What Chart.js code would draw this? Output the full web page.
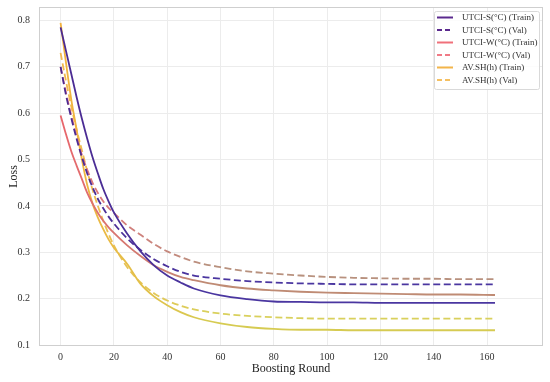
<!DOCTYPE html>
<html>
<head>
<meta charset="utf-8">
<script src="https://cdn.jsdelivr.net/npm/chart.js@4"></script>
<style>
  html, body { margin: 0; padding: 0; background: #fff; }
  #wrap { width: 550px; height: 382px; position: relative; }
</style>
</head>
<body>
<div id="wrap"><canvas id="lossChart"></canvas></div>
<script>
const rounds = [0, 2, 4, 6, 8, 10, 12, 14, 16, 18, 20, 25, 30, 35, 40, 45, 50, 60, 70, 80, 90, 100, 110, 120, 130, 140, 150, 163];

const utciSTrain = [0.785, 0.735, 0.685, 0.635, 0.588, 0.545, 0.505, 0.470, 0.437, 0.410, 0.386, 0.340, 0.302, 0.272, 0.250, 0.235, 0.222, 0.207, 0.199, 0.194, 0.193, 0.192, 0.192, 0.191, 0.191, 0.191, 0.191, 0.191];
const utciSVal   = [0.700, 0.640, 0.590, 0.545, 0.505, 0.470, 0.440, 0.415, 0.395, 0.377, 0.362, 0.330, 0.305, 0.285, 0.270, 0.258, 0.250, 0.243, 0.238, 0.235, 0.233, 0.232, 0.231, 0.231, 0.231, 0.231, 0.231, 0.231];
const utciWTrain = [0.595, 0.555, 0.518, 0.487, 0.458, 0.428, 0.405, 0.385, 0.368, 0.354, 0.342, 0.315, 0.292, 0.272, 0.258, 0.247, 0.240, 0.229, 0.222, 0.218, 0.215, 0.213, 0.212, 0.211, 0.210, 0.209, 0.209, 0.208];
const utciWVal   = [0.700, 0.645, 0.595, 0.550, 0.510, 0.478, 0.450, 0.428, 0.410, 0.396, 0.385, 0.358, 0.338, 0.318, 0.302, 0.290, 0.280, 0.268, 0.259, 0.254, 0.250, 0.247, 0.245, 0.244, 0.243, 0.243, 0.242, 0.242];
const avshTrain  = [0.795, 0.710, 0.630, 0.565, 0.500, 0.445, 0.405, 0.375, 0.350, 0.328, 0.310, 0.275, 0.232, 0.205, 0.186, 0.171, 0.160, 0.147, 0.139, 0.135, 0.133, 0.133, 0.132, 0.132, 0.132, 0.132, 0.132, 0.132];
const avshVal    = [0.730, 0.670, 0.615, 0.565, 0.520, 0.475, 0.435, 0.400, 0.368, 0.340, 0.315, 0.268, 0.235, 0.212, 0.196, 0.185, 0.177, 0.168, 0.163, 0.160, 0.158, 0.157, 0.157, 0.157, 0.157, 0.157, 0.157, 0.157];

const seriesLabels = ['UTCI-S(°C) (Train)', 'UTCI-S(°C) (Val)', 'UTCI-W(°C) (Train)', 'UTCI-W(°C) (Val)', 'AV.SH(h) (Train)', 'AV.SH(h) (Val)'];
const seriesData = [utciSTrain, utciSVal, utciWTrain, utciWVal, avshTrain, avshVal];
const dashed = [false, true, false, true, false, true];
// colour at the start of the curve, colour in the flat tail, colour in the legend
const startColors  = ['#4b2a92', '#4b2a92', '#e8666c', '#e8707a', '#f2b23e', '#f2b850'];
const tailColors   = ['#4a36a0', '#4a36a0', '#bf8b74', '#b8917e', '#d6cb52', '#d9d05c'];
const legendColors = ['#5b2a8e', '#5b2a8e', '#f0707a', '#f07a86', '#f3b54a', '#f5c062'];

const serif = '"Liberation Serif", "DejaVu Serif", serif';

function gradientFor(i) {
  return (ctx) => {
    const chart = ctx.chart;
    const area = chart.chartArea;
    if (!area) return startColors[i];
    const xs = chart.scales.x;
    const g = chart.ctx.createLinearGradient(xs.getPixelForValue(0), 0, xs.getPixelForValue(55), 0);
    g.addColorStop(0, startColors[i]);
    g.addColorStop(1, tailColors[i]);
    return g;
  };
}

const datasets = seriesData.map((vals, i) => ({
  label: seriesLabels[i],
  data: rounds.map((r, k) => ({ x: r, y: vals[k] })),
  borderColor: gradientFor(i),
  borderWidth: 1.8,
  borderDash: dashed[i] ? [7, 3.5] : [],
  pointRadius: 0,
  fill: false,
  cubicInterpolationMode: 'monotone'
}));

// legend box drawn inside the plot, top right
const insideLegend = {
  id: 'insideLegend',
  afterDraw(chart) {
    const c = chart.ctx;
    const x0 = 434, y0 = 11, w = 105, h = 78;
    c.save();
    c.fillStyle = 'rgba(255,255,255,0.85)';
    c.strokeStyle = '#d9d9d9';
    c.lineWidth = 1;
    c.beginPath();
    c.roundRect(x0 + 0.5, y0 + 0.5, w, h, 2);
    c.fill();
    c.stroke();
    c.font = '9px ' + serif;
    c.textBaseline = 'middle';
    c.fillStyle = '#333';
    seriesLabels.forEach((lab, i) => {
      const y = 17.5 + i * 12.5;
      c.strokeStyle = legendColors[i];
      c.lineWidth = 2;
      c.setLineDash(dashed[i] ? [5, 3] : []);
      c.beginPath();
      c.moveTo(437, y);
      c.lineTo(453, y);
      c.stroke();
      c.setLineDash([]);
      c.fillText(lab, 462, y + 0.5);
    });
    c.restore();
  }
};

const frame = {
  id: 'frame',
  beforeDatasetsDraw(chart) {
    const a = chart.chartArea;
    const c = chart.ctx;
    c.save();
    c.strokeStyle = '#cfcfcf';
    c.lineWidth = 1;
    c.strokeRect(a.left + 0.5, a.top + 0.5, a.right - a.left - 1, a.bottom - a.top - 1);
    c.restore();
  }
};

new Chart(document.getElementById('lossChart'), {
  type: 'line',
  data: { datasets },
  options: {
    responsive: true,
    maintainAspectRatio: false,
    animation: false,
    layout: { padding: { left: 0, right: 7, top: 7, bottom: 0 } },
    plugins: {
      legend: { display: false },
      tooltip: { enabled: false }
    },
    scales: {
      x: {
        type: 'linear',
        min: -8.1,
        max: 181,
        border: { display: false },
        grid: { color: '#ececec', lineWidth: 1, drawTicks: false },
        ticks: {
          stepSize: 20,
          includeBounds: false,
          padding: 5,
          color: '#333',
          font: { family: serif, size: 10 }
        },
        afterBuildTicks: (s) => { s.ticks = s.ticks.filter(t => t.value >= 0 && t.value <= 160); },
        afterFit: (s) => { s.height = 36; s.paddingLeft = 0; s.paddingRight = 0; },
        title: {
          display: true,
          text: 'Boosting Round',
          color: '#222',
          font: { family: serif, size: 12 },
          padding: { top: 0, bottom: 6 }
        }
      },
      y: {
        min: 0.098,
        max: 0.829,
        border: { display: false },
        grid: { color: '#ececec', lineWidth: 1, drawTicks: false },
        ticks: {
          stepSize: 0.1,
          includeBounds: false,
          padding: 9,
          color: '#333',
          font: { family: serif, size: 10 },
          callback: (v) => v.toFixed(1)
        },
        afterFit: (s) => { s.width = 39; s.paddingTop = 0; s.paddingBottom = 0; },
        title: {
          display: true,
          text: 'Loss',
          color: '#222',
          font: { family: serif, size: 12 },
          padding: { top: 7, bottom: 0 }
        }
      }
    }
  },
  plugins: [frame, insideLegend]
});
</script>
</body>
</html>
